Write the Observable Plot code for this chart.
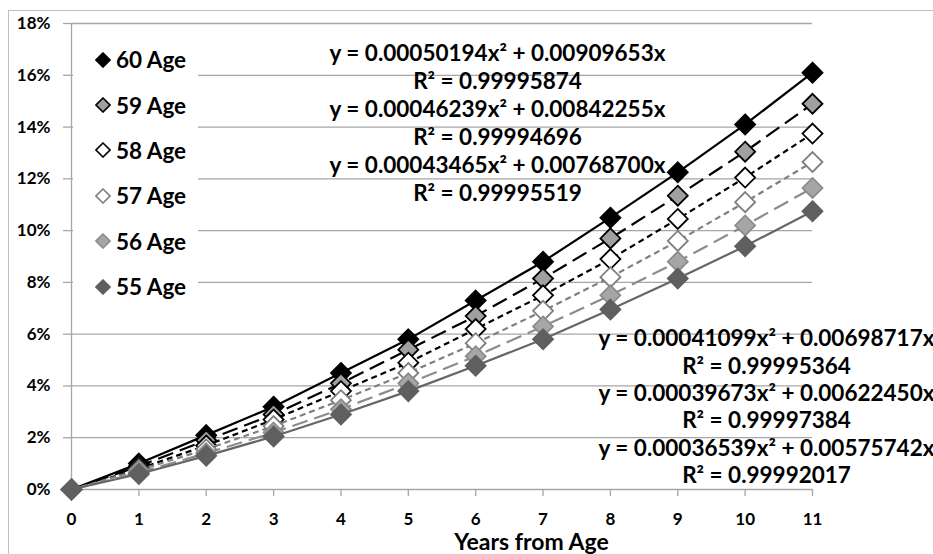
<!DOCTYPE html>
<html><head><meta charset="utf-8">
<script src="https://cdn.jsdelivr.net/npm/d3@7"></script>
<script src="https://cdn.jsdelivr.net/npm/@observablehq/plot@0.6"></script>
<style>
body{margin:0;background:#fff;font-family:Lato,"Open Sans",sans-serif;}
#wrap{position:relative;width:933px;height:554px;overflow:hidden;}
#chart{position:absolute;left:0;top:0;}
#border{position:absolute;left:8px;top:10px;width:1000px;height:1000px;border-left:1px solid #c0c0c0;border-top:1px solid #c0c0c0;pointer-events:none;}
#legend{position:absolute;left:73px;top:37px;width:125px;background:#fff;}
.row{height:45.4px;display:flex;align-items:center;padding-left:22px;font-weight:bold;font-size:22.5px;color:#000;}
.row svg{margin-right:5px;flex:none}
</style></head>
<body><div id="wrap"><div id="chart"></div><div id="border"></div><div id="legend"></div></div>
<script>
// ---- data ----
const years = [0,1,2,3,4,5,6,7,8,9,10,11];
const seriesNames = ["60 Age","59 Age","58 Age","57 Age","56 Age","55 Age"];
const age60 = [0, 0.010, 0.021, 0.032, 0.045, 0.058, 0.073, 0.088, 0.105, 0.1225, 0.141, 0.161];
const age59 = [0, 0.009, 0.019, 0.029, 0.041, 0.054, 0.067, 0.0815, 0.097, 0.1135, 0.1305, 0.149];
const age58 = [0, 0.008, 0.017, 0.027, 0.038, 0.049, 0.062, 0.075, 0.089, 0.1045, 0.1205, 0.1375];
const age57 = [0, 0.0075, 0.0155, 0.0245, 0.0345, 0.045, 0.0565, 0.069, 0.082, 0.096, 0.111, 0.1265];
const age56 = [0, 0.0065, 0.014, 0.022, 0.031, 0.041, 0.0515, 0.063, 0.075, 0.088, 0.102, 0.1165];
const age55 = [0, 0.006, 0.013, 0.0205, 0.029, 0.038, 0.0478, 0.058, 0.0695, 0.0815, 0.094, 0.1075];
const seriesValues = [age60, age59, age58, age57, age56, age55];
const yTicks = [0, 0.02, 0.04, 0.06, 0.08, 0.10, 0.12, 0.14, 0.16, 0.18];
const eqTop = [
  "y = 0.00050194x² + 0.00909653x", "R² = 0.99995874",
  "y = 0.00046239x² + 0.00842255x", "R² = 0.99994696",
  "y = 0.00043465x² + 0.00768700x", "R² = 0.99995519"
];
const eqBottom = [
  "y = 0.00041099x² + 0.00698717x", "R² = 0.99995364",
  "y = 0.00039673x² + 0.00622450x", "R² = 0.99997384",
  "y = 0.00036539x² + 0.00575742x", "R² = 0.99992017"
];
const xTitle = "Years from Age";

// ---- styles ----
const styles = {
  "60 Age": {line:"#000000", dash:null,   fill:"#000000", stroke:"#000000"},
  "59 Age": {line:"#000000", dash:"16,7", fill:"#a0a0a0", stroke:"#000000"},
  "58 Age": {line:"#000000", dash:"6,4",  fill:"#ffffff", stroke:"#000000"},
  "57 Age": {line:"#7f7f7f", dash:"6,4",  fill:"#ffffff", stroke:"#7f7f7f"},
  "56 Age": {line:"#8c8c8c", dash:"16,7", fill:"#a6a6a6", stroke:"#8c8c8c"},
  "55 Age": {line:"#666666", dash:null,   fill:"#5f5f5f", stroke:"#5f5f5f"}
};

const data = [];
seriesNames.forEach((name, i) => years.forEach((yr, j) => data.push({series:name, year:yr, value:seriesValues[i][j]})));

const marks = [
  Plot.ruleY(yTicks, {stroke:"#a6a6a6", strokeWidth:1.3}),
  Plot.ruleX([0], {stroke:"#a6a6a6", strokeWidth:1.3}),
  Plot.axisY({ticks:yTicks, tickSize:8, stroke:"#a6a6a6", strokeWidth:1.3, tickFormat:() => "", label:null}),
  Plot.axisY({ticks:yTicks, tickSize:0, tickPadding:21, tickFormat:d3.format(".0%"), fontSize:17, fontWeight:"bold", fill:"#000", label:null}),
  Plot.axisX({ticks:years, tickSize:7, stroke:"#a6a6a6", strokeWidth:1.3, tickFormat:() => "", label:null}),
  Plot.axisX({ticks:years, tickSize:0, tickPadding:23, tickFormat:d3.format("d"), fontSize:17, fontWeight:"bold", fill:"#000", label:null}),
  Plot.text([xTitle], {text:d => d, frameAnchor:"bottom", dx:89.5, dy:60, fontSize:23, fontWeight:"bold", fill:"#000"})
];
seriesNames.forEach(name => {
  const s = styles[name];
  const rows = data.filter(d => d.series === name);
  marks.push(Plot.line(rows, {x:"year", y:"value", stroke:s.line, strokeWidth:2.2, strokeDasharray:s.dash, strokeLinecap:"butt"}));
  marks.push(Plot.dot(rows, {x:"year", y:"value", symbol:"diamond2", r:9, fill:s.fill, stroke:s.stroke, strokeWidth:1.8}));
});
marks.push(Plot.text([eqTop.join("\n")], {text:d => d, frameAnchor:"top", dx:55.5, dy:99, lineAnchor:"middle", lineHeight:1.244, fontSize:22.5, fontWeight:"bold", fill:"#000"}));
marks.push(Plot.text([eqBottom.join("\n")], {text:d => d, frameAnchor:"top", dx:324.5, dy:382.5, lineAnchor:"middle", lineHeight:1.218, fontSize:22.5, fontWeight:"bold", fill:"#000"}));

const chart = Plot.plot({
  width:933, height:554,
  marginLeft:71, marginRight:121, marginTop:23, marginBottom:65,
  x:{domain:[0,11]},
  y:{domain:[0,0.18]},
  style:{fontFamily:"Lato, 'Open Sans', sans-serif", background:"white", overflow:"hidden"},
  marks
});
document.getElementById("chart").appendChild(chart);

// legend
const legend = document.getElementById("legend");
seriesNames.forEach(name => {
  const s = styles[name];
  const row = document.createElement("div");
  row.className = "row";
  row.innerHTML = `<svg width="16" height="16" viewBox="-8 -8 16 16"><polygon points="0,-7 7,0 0,7 -7,0" fill="${s.fill}" stroke="${s.stroke}" stroke-width="1.6"/></svg><span>${name}</span>`;
  legend.appendChild(row);
});
</script></body></html>
